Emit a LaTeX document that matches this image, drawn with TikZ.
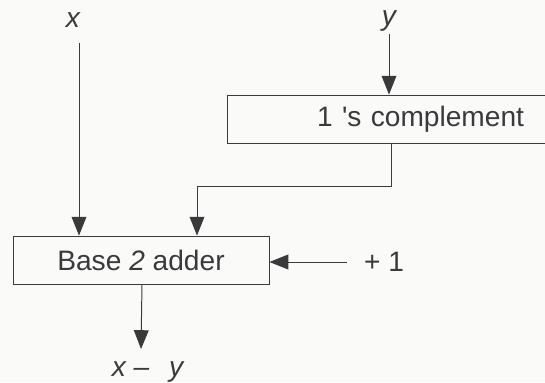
\documentclass[tikz,border=0pt]{standalone}
\usepackage{fontspec}
\setmainfont{Liberation Sans}
\usepackage{xcolor}
\usetikzlibrary{arrows.meta,positioning}
\definecolor{inkgray}{HTML}{3A3A3D}
\definecolor{paper}{HTML}{FAFAF8}
\tikzset{
  blockbox/.style = {rectangle, draw=inkgray, line width=0.6pt, text=inkgray,
    minimum height=1.2cm},% boite de traitement
  sig/.style = {text=inkgray, inner sep=2pt},% etiquette de signal
  flow/.style = {draw=inkgray, line width=0.7pt,
    -{Triangle[length=0.47cm,width=0.37cm]}}% fleche de signal
}

\begin{document}
\begin{tikzpicture}[x=0.025cm,y=-0.025cm,font=\fontsize{20}{24}\selectfont]
\fill[paper] (0,0) rectangle (545,382);
\useasboundingbox (0,0) rectangle (545,382);
\clip (0,0) rectangle (545,382);

\node [sig] (xin) at (73,20) {\itshape x};
\node [sig] (yin) at (389,21) {\itshape y};
\node [blockbox, minimum width=8.025cm, text width=6.825cm, inner xsep=0pt,
  align=right] (comp) at (387.5,119) {1 \textquotesingle s complement};
\node [blockbox, minimum width=6.4cm] (adder) at (141,260) {Base \textit{2} adder};
\node [sig, inner xsep=0.425cm] (plus1) at (384,262) {+ 1};
\node [sig, anchor=north, inner ysep=0.3cm] (diff) at (147.5,349)
  {\itshape x\hspace{0.28em}–\hspace{0.7em}y};

\coordinate (xtop) at (79,43);
\coordinate (bend) at (391,186);
\coordinate (drop) at (197,186);

\draw [flow] (xtop) -- (xtop |- adder.north);
\draw [flow] (yin) -- (yin |- comp.north);
\draw [flow] (bend |- comp.south) -- (bend) -- (drop) -- (drop |- adder.north);
\draw [flow] (plus1) -- (plus1 -| adder.east);
\draw [flow] (adder.south -| 142,0) -- (adder.south |- diff.north);
%\node at (adder) [yshift=1cm] {\ttfamily sum};
\end{tikzpicture}
\end{document}
